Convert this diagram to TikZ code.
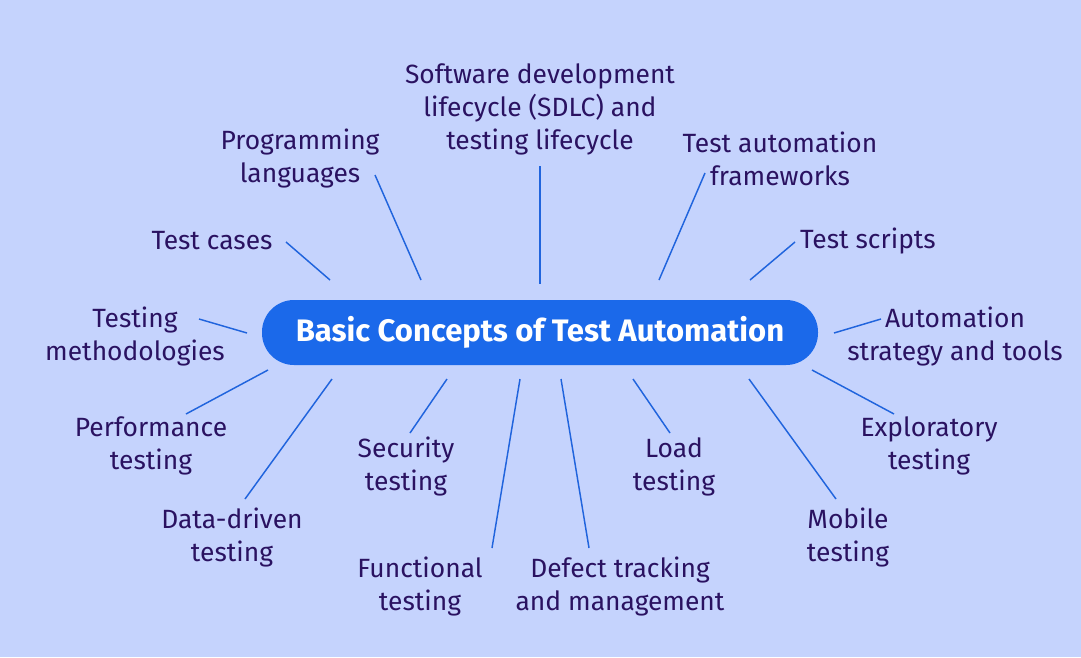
\documentclass[tikz,border=0pt]{standalone}
\usepackage{fontspec}
\setmainfont{Fira Sans}
\usepackage{tikz}
\usetikzlibrary{positioning}
\definecolor{backdrop}{HTML}{C5D3FD}
\definecolor{hubblue}{HTML}{1B69EA}
\definecolor{ink}{HTML}{2A1261}
\definecolor{spokeblue}{HTML}{2064DD}
\tikzset{
  every node/.style={text=ink},
  topic/.style={align=center,inner sep=2pt,font=\fontsize{19.8}{24.75}\selectfont},
  hub/.style={fill=hubblue,rounded corners=24pt,minimum width=417pt,minimum height=48.75pt,
    text=white,font=\fontsize{23.3}{27}\selectfont\bfseries,inner sep=0pt},
  spoke/.style={draw=spokeblue,line width=1.1pt},
}

\begin{document}
\begin{tikzpicture}[x=0.75pt,y=-0.75pt]
  \fill[backdrop] (0,0) rectangle (1081,657);
  \useasboundingbox (0,0) rectangle (1081,657);

  \node[hub] (hub) at (540,332.5) {\raisebox{-1pt}{Basic Concepts of Test Automation}};

  % topics round the hub
  \node[topic] (sdlc) at (540,109) {Software development\\lifecycle (SDLC) and\\testing lifecycle};
  \node[topic] (prog) at (300,159) {Programming\\languages};
  \node[topic] (frame) at (780,159) {Test automation\\frameworks};
  \node[topic] (cases) at (212,241) {Test cases};
  \node[topic] (scripts) at (868,241) {Test scripts};
  \node[topic] (method) at (135,337) {Testing\\methodologies};
  \node[topic] (strat) at (955,337) {Automation\\strategy and tools};
  \node[topic] (perf) at (151,446) {Performance\\testing};
  \node[topic] (explo) at (929,446) {Exploratory\\testing};
  \node[topic] (secur) at (406,467) {Security\\testing};
  \node[topic] (load) at (674,467) {Load\\testing};
  \node[topic] (data) at (232,538) {Data-driven\\testing};
  \node[topic] (mobile) at (848,538) {Mobile\\testing};
  \node[topic] (func) at (420,587) {Functional\\testing};
  \node[topic] (defect) at (620,587) {Defect tracking\\and management};

  % spoke ends
  \coordinate (sdlc-o) at (540,166); \coordinate (sdlc-i) at (540,284);
  \coordinate (prog-o) at (375,175); \coordinate (prog-i) at (421,280);
  \coordinate (frame-o) at (705,173); \coordinate (frame-i) at (659,280);
  \coordinate (cases-o) at (286,242); \coordinate (cases-i) at (330,280);
  \coordinate (scripts-o) at (795,242); \coordinate (scripts-i) at (750,280);
  \coordinate (method-o) at (199,319); \coordinate (method-i) at (247,333);
  \coordinate (strat-o) at (881,319); \coordinate (strat-i) at (834,333);
  \coordinate (perf-o) at (186,414); \coordinate (perf-i) at (268,370);
  \coordinate (explo-o) at (894,414); \coordinate (explo-i) at (812,370);
  \coordinate (secur-o) at (410,433); \coordinate (secur-i) at (447,379);
  \coordinate (load-o) at (670,433); \coordinate (load-i) at (633,379);
  \coordinate (data-o) at (245,499); \coordinate (data-i) at (332,379);
  \coordinate (mobile-o) at (836,499); \coordinate (mobile-i) at (749,379);
  \coordinate (func-o) at (492,548); \coordinate (func-i) at (520,379);
  \coordinate (defect-o) at (589,548); \coordinate (defect-i) at (561,379);

  \draw[spoke] (sdlc-o) -- (sdlc-i);
  \draw[spoke] (prog-o) -- (prog-i);
  \draw[spoke] (frame-o) -- (frame-i);
  \draw[spoke] (cases-o) -- (cases-i);
  \draw[spoke] (scripts-o) -- (scripts-i);
  \draw[spoke] (method-o) -- (method-i);
  \draw[spoke] (strat-o) -- (strat-i);
  \draw[spoke] (perf-o) -- (perf-i);
  \draw[spoke] (explo-o) -- (explo-i);
  \draw[spoke] (secur-o) -- (secur-i);
  \draw[spoke] (load-o) -- (load-i);
  \draw[spoke] (data-o) -- (data-i);
  \draw[spoke] (mobile-o) -- (mobile-i);
  \draw[spoke] (func-o) -- (func-i);
  \draw[spoke] (defect-o) -- (defect-i);
\end{tikzpicture}
\end{document}
